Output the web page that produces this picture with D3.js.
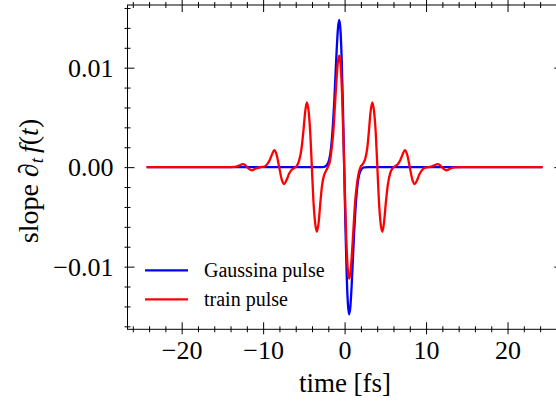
<!DOCTYPE html>
<html>
<head>
<meta charset="utf-8">
<script src="https://cdn.jsdelivr.net/npm/d3@7"></script>
<style>
  body { margin: 0; background: #fff; }
  svg { display: block; font-family: "Liberation Serif", "DejaVu Serif", serif; }
  svg text { font-family: "Liberation Serif", "DejaVu Serif", serif; }
</style>
</head>
<body>
<div id="chart"></div>
<script>
// time axis (fs) and slope values
const gaussTime = [-24.3, -3.0, -2.49, -2.19, -1.88, -1.73, -1.575, -1.42, -1.27, -1.12, -0.965, -0.81, -0.66,
    -0.51, -0.355, -0.2, -0.05, 0.1, 0.255, 0.41, 0.56, 0.71, 0.865, 1.02, 1.17, 1.32, 1.475, 1.63, 1.78,
    2.09, 2.39, 3.0, 24.3];
const gaussSlope = [0, 0, 0.00003, 0.0002, 0.0008, 0.0015, 0.0027, 0.0044, 0.0066, 0.0092, 0.0119, 0.014, 0.0148,
    0.0138, 0.0108, 0.0059, 0, -0.0059, -0.0108, -0.0138, -0.0148, -0.014, -0.0119, -0.0092, -0.0066, -0.0044, -0.0027, -0.0015, -0.0008,
    -0.0002, -0.00003, 0, 0];

const trainTime = [-24.3, -14.5, -13.5, -13.1, -12.8, -12.5, -12.2, -11.95, -11.7, -11.4, -11.1, -10.8, -10.3,
    -9.85, -9.5, -9.2, -8.9, -8.63, -8.33, -8.03, -7.73, -7.43, -7.13, -6.83, -6.53, -6.2,
    -5.9, -5.6, -5.3, -5.06, -4.86, -4.64, -4.4, -4.2, -4.02, -3.84, -3.63, -3.4, -3.18, -2.98, -2.78, -2.55, -2.3,
    -2.0, -1.8, -1.6, -1.4, -1.2, -1.0, -0.82, -0.66, -0.5, -0.3, -0.05, 0.2, 0.4, 0.56, 0.72, 0.9, 1.1, 1.3, 1.5, 1.7,
    1.95, 2.3, 2.55, 2.78, 2.98, 3.18, 3.4, 3.63, 3.84, 4.02, 4.2, 4.4, 4.64, 4.86, 5.06, 5.3, 5.6, 5.9,
    6.2, 6.53, 6.83, 7.13, 7.4, 7.7, 8.0, 8.3, 8.6, 8.9, 9.2, 9.5, 9.85,
    10.3, 10.8, 11.1, 11.4, 11.7, 11.95, 12.2, 12.5, 12.8, 13.1, 13.5, 14.5, 24.3];
const trainSlope = [0, 0, 0.00002, 0.0001, 0.00022, 0.0003, 0.0002, 0, -0.0002, -0.00032, -0.00022, -0.0001, 0,
    0.00005, 0.0003, 0.0007, 0.0013, 0.0017, 0.0012, 0, -0.0012, -0.0017, -0.0013, -0.0007, -0.0003, -0.0001,
    0.0001, 0.0006, 0.0018, 0.0036, 0.0054, 0.0065, 0.0055, 0.0032, 0, -0.0032, -0.0055, -0.0065, -0.0055, -0.0036, -0.0019, -0.0009, -0.0004,
    0.0001, 0.0006, 0.0018, 0.0034, 0.006, 0.0087, 0.0106, 0.0112, 0.0104, 0.0071, 0, -0.0071, -0.0104, -0.0112, -0.0106, -0.0087, -0.006, -0.0034, -0.0018, -0.0007,
    0, 0.0004, 0.0009, 0.0019, 0.0036, 0.0055, 0.0065, 0.0055, 0.0032, 0, -0.0032, -0.0055, -0.0065, -0.0054, -0.0036, -0.0018, -0.0006, -0.0001,
    0.0001, 0.0003, 0.0007, 0.0013, 0.0017, 0.0012, 0, -0.0012, -0.0017, -0.0013, -0.0007, -0.0003, -0.00005,
    0, 0.0001, 0.00022, 0.0003, 0.0002, 0, -0.0002, -0.00032, -0.00022, -0.0001, -0.00002, 0, 0];

const xTicks = [-20, -10, 0, 10, 20];
const yTicks = [-0.01, 0, 0.01];
const xMinor = d3.range(-26, 27, 2).filter(v => v % 10 !== 0);
const yMinor = d3.range(-16, 17, 2).filter(v => v % 10 !== 0).map(v => v / 1000);
const seriesNames = ["Gaussina pulse", "train pulse"];
const seriesColors = ["#0000ff", "#ff0000"];

const margin = { top: 5, left: 127.5 },
    width = 433.8,
    height = 324.3;

const svg = d3.select("#chart")
    .append("svg")
    .attr("width", 556)
    .attr("height", 403);

const g = svg.append("g")
    .attr("transform", `translate(${margin.left},${margin.top})`);

const x = d3.scaleLinear().domain([-26.65, 26.6]).range([0, width]);
const y = d3.scaleLinear().domain([-0.0163, 0.0163]).range([height, 0]);

// tick helper: ticks that cross the spine
function ticks(axis, values, tin, tout, vertical, sign) {
    const a = g.append("g").call(axis.tickValues(values).tickSize(0))
        .attr("font-family", null)
        .attr("font-size", null);
    a.select(".domain").remove();
    a.selectAll(".tick line")
        .attr("stroke", "#000")
        .attr("stroke-width", 1)
        .attr(vertical ? "y1" : "x1", sign * tout)
        .attr(vertical ? "y2" : "x2", -sign * tin);
    return a;
}

const xb = ticks(d3.axisBottom(x).tickFormat(d => d3.format("d")(d)), xTicks, 7, 5, true, 1)
    .attr("transform", `translate(0,${height})`);
xb.selectAll("text").attr("y", 30).attr("dy", null).attr("font-size", 26).attr("fill", "#000");
ticks(d3.axisBottom(x).tickFormat(""), xMinor, 3, 3, true, 1).attr("transform", `translate(0,${height})`);
ticks(d3.axisTop(x).tickFormat(""), xTicks, 7, 5, true, -1);
ticks(d3.axisTop(x).tickFormat(""), xMinor, 3, 3, true, -1);

const yl = ticks(d3.axisLeft(y).tickFormat(d3.format(".2f")), yTicks, 7, 3, false, -1);
yl.selectAll("text").attr("x", -14).attr("dy", "0.33em").attr("font-size", 26).attr("fill", "#000");
ticks(d3.axisLeft(y).tickFormat(""), yMinor, 3, 3, false, -1);
ticks(d3.axisRight(y).tickFormat(""), yTicks, 7, 3, false, 1).attr("transform", `translate(${width},0)`);
ticks(d3.axisRight(y).tickFormat(""), yMinor, 3, 3, false, 1).attr("transform", `translate(${width},0)`);

g.append("rect")
    .attr("width", width)
    .attr("height", height)
    .attr("fill", "none")
    .attr("stroke", "#000")
    .attr("stroke-width", 1);

const line = d3.line()
    .x(d => x(d[0]))
    .y(d => y(d[1]))
    .curve(d3.curveMonotoneX);

const series = [d3.zip(gaussTime, gaussSlope), d3.zip(trainTime, trainSlope)];

g.selectAll(".series")
    .data(series)
    .join("path")
    .attr("class", "series")
    .attr("d", line)
    .attr("fill", "none")
    .attr("stroke", (d, i) => seriesColors[i])
    .attr("stroke-width", 2.3)
    .attr("stroke-linejoin", "round");

// legend
const legend = g.append("g").attr("transform", "translate(17.5,265.3)");
seriesNames.forEach((name, i) => {
    legend.append("line")
        .attr("x1", 0).attr("x2", 43)
        .attr("y1", i * 29).attr("y2", i * 29)
        .attr("stroke", seriesColors[i])
        .attr("stroke-width", 2.3);
    legend.append("text")
        .attr("x", 59)
        .attr("y", i * 29 + 7)
        .attr("font-size", 20)
        .text(name);
});

// axis labels
svg.append("text")
    .attr("x", 345)
    .attr("y", 392)
    .attr("text-anchor", "middle")
    .attr("font-size", 27)
    .text("time [fs]");

const ylab = svg.append("text")
    .attr("transform", "translate(38,181) rotate(-90)")
    .attr("text-anchor", "middle")
    .attr("font-size", 28);
ylab.append("tspan").text("slope ");
ylab.append("tspan").attr("font-style", "italic").text("\u2202");
ylab.append("tspan").attr("font-style", "italic").attr("font-size", 19).attr("dy", 5).text("t");
ylab.append("tspan").attr("font-style", "italic").attr("dy", -5).attr("dx", 5).text("f");
ylab.append("tspan").text("(");
ylab.append("tspan").attr("font-style", "italic").text("t");
ylab.append("tspan").text(")");
</script>
</body>
</html>
